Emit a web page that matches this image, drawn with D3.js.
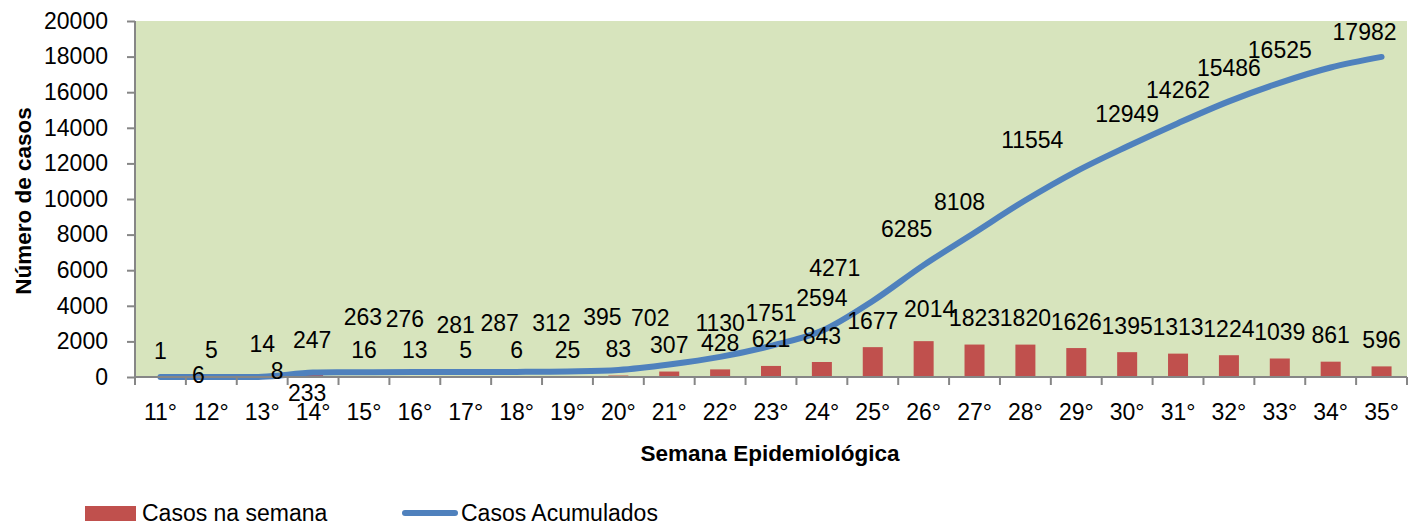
<!DOCTYPE html>
<html>
<head>
<meta charset="utf-8">
<script src="https://cdn.jsdelivr.net/npm/d3@7"></script>
<style>
  body { margin: 0; background: #fff; }
  text { font-family: "Liberation Sans", Arial, sans-serif; fill: #000; }
</style>
</head>
<body>
<div id="chart"></div>
<script>
var svgWidth = 1421;
var svgHeight = 527;

var margin = { top: 21, right: 14, bottom: 150, left: 135 };
var width = 1407 - margin.left;
var height = 377 - margin.top;

// data
var semanas = ["11°", "12°", "13°", "14°", "15°", "16°", "17°", "18°", "19°", "20°", "21°", "22°", "23°",
  "24°", "25°", "26°", "27°", "28°", "29°", "30°", "31°", "32°", "33°", "34°", "35°"];
var casosSemana = [1, 5, 8, 233, 16, 13, 5, 6, 25, 83, 307, 428, 621, 843, 1677, 2014, 1823, 1820,
  1626, 1395, 1313, 1224, 1039, 861, 596];
var casosAcumulados = [1, 6, 14, 247, 263, 276, 281, 287, 312, 395, 702, 1130, 1751, 2594, 4271,
  6285, 8108, 9928, 11554, 12949, 14262, 15486, 16525, 17386, 17982];
var yTicks = [0, 2000, 4000, 6000, 8000, 10000, 12000, 14000, 16000, 18000, 20000];

// label placement (moved by hand in the original), null = label not shown
var acumLabelOffset = [null, [-13, -2], [0, -33], [-1, -33], [-1, -55], [-10, -53], [-10, -47],
  [-17, -49], [-16, -48], [-16, -53], [-19, -47], [0, -34], [0, -33], [0, -33], [-38, -33],
  [-17, -36], [-15, -31], null, [-44, -31], [0, -33], [0, -33], [0, -33], [0, -33], null, [-17, -25]];
var semanaLabelOffset = {2: [15, -6], 3: [-6, 20], 15: [6, -32]};

var svg = d3.select("#chart")
  .append("svg")
  .attr("width", svgWidth)
  .attr("height", svgHeight);

var chartGroup = svg.append("g")
  .attr("transform", `translate(${margin.left}, ${margin.top})`);

var xScale = d3.scaleBand()
  .domain(semanas)
  .range([0, width]);

var yScale = d3.scaleLinear()
  .domain([0, 20000])
  .range([height, 0]);

// plot background
chartGroup.append("rect")
  .attr("width", width)
  .attr("height", height)
  .attr("fill", "#d7e4bd");

// bars
chartGroup.selectAll(".bar")
  .data(casosSemana)
  .enter()
  .append("rect")
  .attr("class", "bar")
  .attr("x", (d, i) => xScale(semanas[i]) + xScale.bandwidth() / 2 - 10)
  .attr("y", d => yScale(d))
  .attr("width", 20)
  .attr("height", d => height - yScale(d))
  .attr("fill", "#c0504d");

// cumulative line
var line = d3.line()
  .x((d, i) => xScale(semanas[i]) + xScale.bandwidth() / 2)
  .y(d => yScale(d))
  .curve(d3.curveCardinal.tension(0));

chartGroup.append("path")
  .datum(casosAcumulados)
  .attr("d", line)
  .attr("fill", "none")
  .attr("stroke", "#4f81bd")
  .attr("stroke-width", 6)
  .attr("stroke-linecap", "round")
  .attr("stroke-linejoin", "round");

// axes
var leftAxis = d3.axisLeft(yScale)
  .tickValues(yTicks)
  .tickSize(8)
  .tickPadding(19)
  .tickFormat(d3.format("d"));

var yAxis = chartGroup.append("g").call(leftAxis);
yAxis.select(".domain").attr("stroke", "#868686").attr("stroke-width", 2)
  .attr("d", `M0,${height}V0`);
yAxis.selectAll(".tick line").attr("stroke", "#868686").attr("stroke-width", 2);
yAxis.selectAll("text").style("font-size", "23px");

var bottomAxis = d3.axisBottom(xScale)
  .tickSize(0)
  .tickPadding(27);

var xAxis = chartGroup.append("g")
  .attr("transform", `translate(0, ${height})`)
  .call(bottomAxis);
xAxis.select(".domain").remove();
xAxis.selectAll("text").style("font-size", "23px");

var bounds = semanas.map(s => xScale(s)).concat([width]);
xAxis.selectAll(".bound")
  .data(bounds)
  .enter()
  .append("line")
  .attr("class", "bound")
  .attr("x1", d => d)
  .attr("x2", d => d)
  .attr("y1", 0)
  .attr("y2", 8)
  .attr("stroke", "#868686")
  .attr("stroke-width", 2);
xAxis.append("line")
  .attr("x1", 0)
  .attr("x2", width)
  .attr("stroke", "#868686")
  .attr("stroke-width", 2);

// data labels
chartGroup.selectAll(".lblSemana")
  .data(casosSemana)
  .enter()
  .append("text")
  .attr("class", "lblSemana")
  .attr("x", (d, i) => xScale(semanas[i]) + xScale.bandwidth() / 2 + (semanaLabelOffset[i] ? semanaLabelOffset[i][0] : 0))
  .attr("y", (d, i) => yScale(d) + (semanaLabelOffset[i] ? semanaLabelOffset[i][1] : -26.5))
  .attr("dy", "0.35em")
  .attr("text-anchor", "middle")
  .style("font-size", "23px")
  .text(d => d);

chartGroup.selectAll(".lblAcum")
  .data(casosAcumulados.filter((d, i) => acumLabelOffset[i]))
  .enter()
  .append("text")
  .attr("class", "lblAcum")
  .each(function(d) {
    var i = casosAcumulados.indexOf(d);
    var off = acumLabelOffset[i];
    d3.select(this)
      .attr("x", xScale(semanas[i]) + xScale.bandwidth() / 2 + off[0])
      .attr("y", yScale(d) + off[1]);
  })
  .attr("dy", "0.35em")
  .attr("text-anchor", "middle")
  .style("font-size", "23px")
  .text(d => d);

// axis titles
svg.append("text")
  .attr("x", 770)
  .attr("y", 461)
  .attr("text-anchor", "middle")
  .style("font-size", "22.5px")
  .style("font-weight", "bold")
  .text("Semana Epidemiológica");

svg.append("text")
  .attr("transform", "rotate(-90)")
  .attr("x", -201)
  .attr("y", 31)
  .attr("text-anchor", "middle")
  .style("font-size", "22.5px")
  .style("font-weight", "bold")
  .text("Número de casos");

// legend
var legend = svg.append("g");
legend.append("rect")
  .attr("x", 85)
  .attr("y", 506)
  .attr("width", 51)
  .attr("height", 15)
  .attr("fill", "#c0504d");
legend.append("text")
  .attr("x", 142)
  .attr("y", 521)
  .style("font-size", "23px")
  .text("Casos na semana");
legend.append("line")
  .attr("x1", 405)
  .attr("x2", 455)
  .attr("y1", 513)
  .attr("y2", 513)
  .attr("stroke", "#4f81bd")
  .attr("stroke-width", 6)
  .attr("stroke-linecap", "round");
legend.append("text")
  .attr("x", 461)
  .attr("y", 521)
  .style("font-size", "23px")
  .text("Casos Acumulados");
</script>
</body>
</html>
